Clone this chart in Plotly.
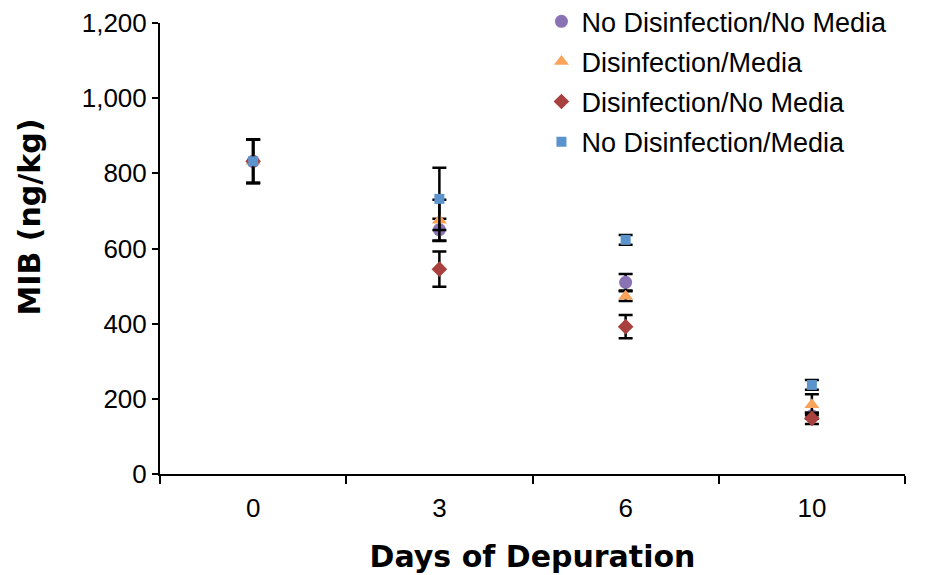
import plotly.graph_objects as go

days = ["0", "3", "6", "10"]
series_names = ["No Disinfection/No Media", "Disinfection/Media",
                "Disinfection/No Media", "No Disinfection/Media"]
nd_nm = [832, 650, 510, 155]
nd_nm_err = [58, 29, 22, 8]
d_m = [832, 675, 473, 184]
d_m_err = [58, 55, 13, 28]
d_nm = [832, 545, 392, 148]
d_nm_err = [58, 47, 31, 15]
nd_m = [832, 732, 623, 237]
nd_m_err = [58, 83, 13, 13]

values = [nd_nm, d_m, d_nm, nd_m]
errors = [nd_nm_err, d_m_err, d_nm_err, nd_m_err]
colors = ["#8B72B4", "#F9A35A", "#A8403E", "#5B94CC"]
symbols = ["circle", "triangle-up", "diamond", "square"]
sizes = [13, 13, 12, 10]

fig = go.Figure()
for i in range(4):
    fig.add_trace(go.Scatter(
        x=days, y=values[i], mode="markers", name=series_names[i],
        legendgroup=str(i),
        marker=dict(color=colors[i], symbol=symbols[i], size=sizes[i], line=dict(width=0)),
        error_y=dict(type="data", array=errors[i], visible=True,
                     color="black", thickness=2.5, width=7),
    ))

title_font = dict(size=30, family="DejaVu Sans, sans-serif", weight="bold", color="black")

fig.add_annotation(
    text="MIB (ng/kg)", textangle=-90, xref="paper", yref="paper",
    x=-0.175, y=0.57, xanchor="center", yanchor="middle", showarrow=False,
    font=title_font,
)

fig.update_layout(
    width=929, height=567,
    paper_bgcolor="white", plot_bgcolor="white",
    margin=dict(l=152, r=32, t=15, b=101, autoexpand=False),
    font=dict(family="Liberation Sans, Arial, sans-serif", color="black", size=26),
    showlegend=True,
    legend=dict(x=0.512, y=1.057, xanchor="left", yanchor="top",
                font=dict(size=27, color="black"), bgcolor="rgba(0,0,0,0)",
                traceorder="grouped", tracegroupgap=2, itemwidth=30),
    xaxis=dict(
        type="category", categoryorder="array", categoryarray=days,
        range=[-0.5, 3.5], tickson="boundaries",
        showline=True, linecolor="black", linewidth=2,
        ticks="outside", ticklen=8, tickwidth=2, tickcolor="black",
        showgrid=False, zeroline=False,
        tickfont=dict(size=26), ticklabelstandoff=10,
        title=dict(text="Days of Depuration", standoff=24, font=title_font),
    ),
    yaxis=dict(
        range=[0, 1200], tickvals=[0, 200, 400, 600, 800, 1000, 1200],
        tickformat=",d",
        showline=True, linecolor="black", linewidth=2,
        ticks="outside", ticklen=6, tickwidth=2, tickcolor="black",
        showgrid=False, zeroline=False,
        tickfont=dict(size=26),
    ),
)

fig.write_html("out.html")
